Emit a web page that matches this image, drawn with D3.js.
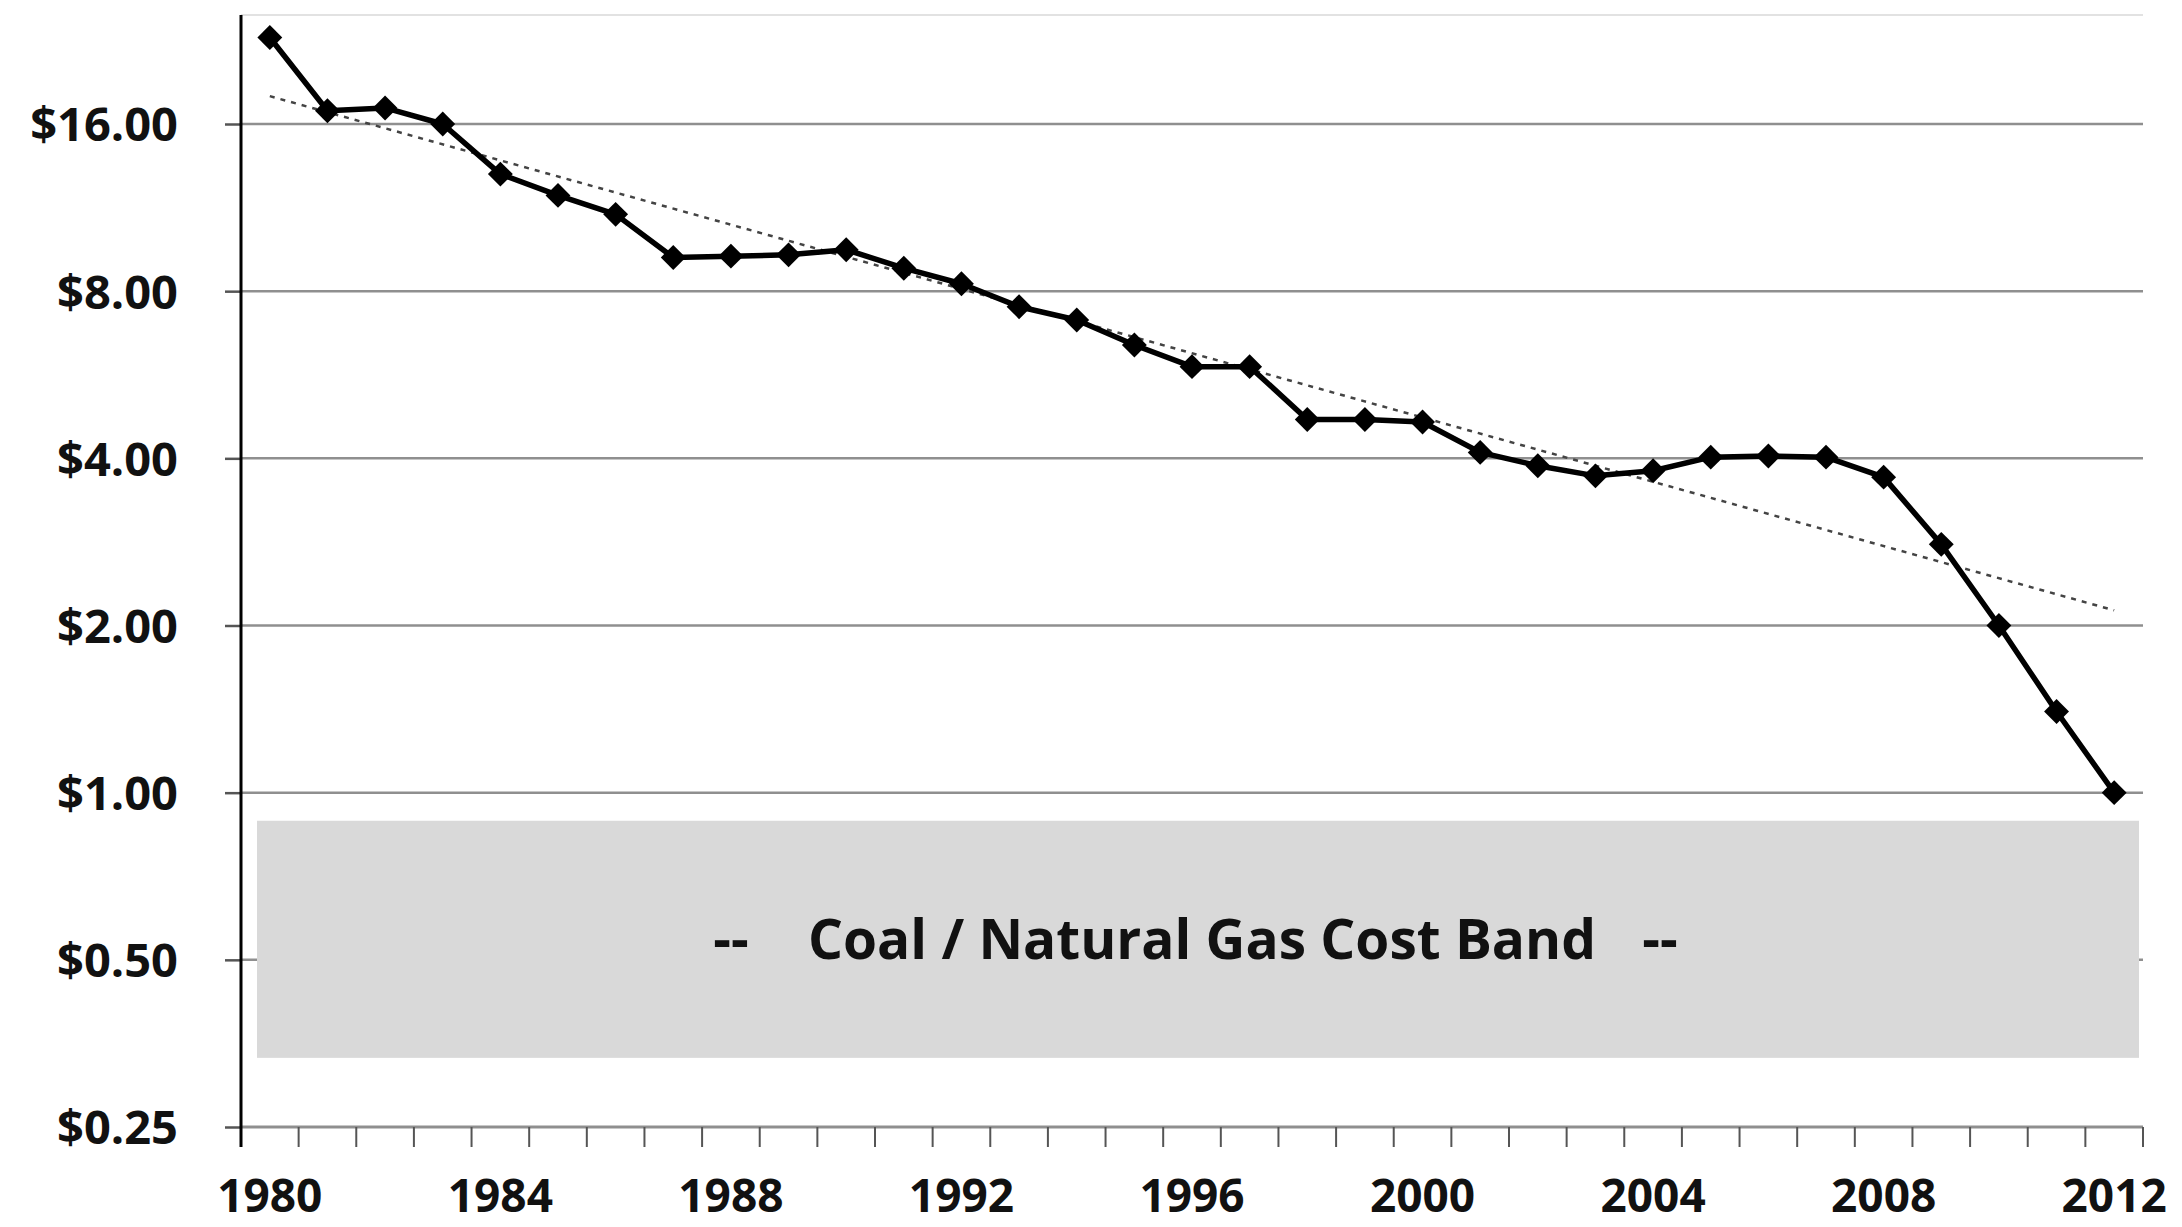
<!DOCTYPE html>
<html>
<head>
<meta charset="utf-8">
<script src="https://cdn.jsdelivr.net/npm/d3@7"></script>
<style>
  body { margin: 0; background: #fff; }
  text { font-family: "Open Sans", "Noto Sans", sans-serif; font-weight: 700; fill: #111; }
</style>
</head>
<body>
<script>
// cost per unit, log scale, 1980-2012
const years = d3.range(1980, 2013);
const cost = [22.9, 16.9, 17.1, 16.0, 13.0, 11.9, 11.0, 9.2, 9.25, 9.3,
              9.5, 8.8, 8.25, 7.5, 7.1, 6.4, 5.85, 5.85, 4.7, 4.7,
              4.65, 4.1, 3.88, 3.72, 3.8, 4.02, 4.04, 4.02, 3.7, 2.8,
              2.0, 1.4, 1.0];
// exponential trend line, read at its two ends
const trendYears = [1980, 2012];
const trendValues = [17.96, 2.13];
// coal / gas cost band
const bandValues = [0.333, 0.89];
const bandLabel = "Coal / Natural Gas Cost Band";
const yTicks = [0.25, 0.5, 1, 2, 4, 8, 16];
const xLabelYears = years.filter(d => d % 4 === 0);

const width = 2182, height = 1227;
const plotLeft = 241, plotRight = 2143, plotTop = 15, plotBottom = 1127;

const svg = d3.select("body").append("svg")
  .attr("width", width)
  .attr("height", height);

const x = d3.scaleBand().domain(years).range([plotLeft, plotRight]).padding(0);
const xc = d => x(d) + x.bandwidth() / 2;
const y = d3.scaleLog().base(2).domain([0.25, 16]).range([plotBottom, 124]);

// top border
svg.append("line")
  .attr("x1", plotLeft).attr("x2", plotRight)
  .attr("y1", plotTop).attr("y2", plotTop)
  .attr("stroke", "#e2e2e2").attr("stroke-width", 2);

// gridlines
svg.append("g").selectAll("line")
  .data(yTicks.filter(d => d > 0.25))
  .enter().append("line")
  .attr("x1", plotLeft).attr("x2", plotRight)
  .attr("y1", d => y(d)).attr("y2", d => y(d))
  .attr("stroke", "#8f8f8f").attr("stroke-width", 2.5);

// band
svg.append("rect")
  .attr("x", plotLeft + 16)
  .attr("width", plotRight - 4 - (plotLeft + 16))
  .attr("y", y(bandValues[1]))
  .attr("height", y(bandValues[0]) - y(bandValues[1]))
  .attr("fill", "#d9d9d9");

const bandMid = (y(bandValues[0]) + y(bandValues[1])) / 2;
svg.append("text")
  .attr("x", 1202).attr("y", bandMid)
  .attr("dy", "0.36em")
  .attr("text-anchor", "middle")
  .style("font-size", "55px")
  .text(bandLabel);
[731, 1660].forEach(px => {
  svg.append("text")
    .attr("x", px).attr("y", bandMid)
    .attr("dy", "0.36em")
    .attr("text-anchor", "middle")
    .style("font-size", "55px")
    .text("--");
});

// x axis
svg.append("line")
  .attr("x1", plotLeft).attr("x2", plotRight)
  .attr("y1", plotBottom).attr("y2", plotBottom)
  .attr("stroke", "#8f8f8f").attr("stroke-width", 3);

svg.append("g").selectAll("line")
  .data(years.map(d => x(d)).concat([plotRight]))
  .enter().append("line")
  .attr("x1", d => d).attr("x2", d => d)
  .attr("y1", plotBottom).attr("y2", plotBottom + 20)
  .attr("stroke", "#555").attr("stroke-width", 2);

const xAxis = svg.append("g")
  .attr("transform", `translate(0,${plotBottom})`)
  .call(d3.axisBottom(x).tickValues(xLabelYears).tickSize(0));
xAxis.select(".domain").remove();
xAxis.selectAll("text")
  .attr("y", 85).attr("dy", 0)
  .style("font-size", "46px");

// y axis
const yAxis = svg.append("g")
  .attr("transform", `translate(${plotLeft},0)`)
  .call(d3.axisLeft(y).tickValues(yTicks).tickFormat(d3.format("$.2f"))
    .tickSizeInner(16).tickSizeOuter(0).tickPadding(47));
yAxis.select(".domain").remove();
yAxis.selectAll(".tick line").attr("stroke", "#555").attr("stroke-width", 2.5);
yAxis.selectAll("text")
  .attr("dy", "0.36em")
  .style("font-size", "47px");

svg.append("line")
  .attr("x1", plotLeft).attr("x2", plotLeft)
  .attr("y1", plotTop).attr("y2", plotBottom + 20)
  .attr("stroke", "#000").attr("stroke-width", 3);

// trend
svg.append("path")
  .datum(trendYears.map((d, i) => [d, trendValues[i]]))
  .attr("fill", "none")
  .attr("stroke", "#444")
  .attr("stroke-width", 2.5)
  .attr("stroke-dasharray", "5,6")
  .attr("d", d3.line().x(d => xc(d[0])).y(d => y(d[1])));

// series
const pts = years.map((d, i) => [d, cost[i]]);
svg.append("path")
  .datum(pts)
  .attr("fill", "none")
  .attr("stroke", "#000")
  .attr("stroke-width", 5.5)
  .attr("stroke-linejoin", "round")
  .attr("d", d3.line().x(d => xc(d[0])).y(d => y(d[1])));

svg.append("g").selectAll("path")
  .data(pts)
  .enter().append("path")
  .attr("transform", d => `translate(${xc(d[0])},${y(d[1])}) rotate(45)`)
  .attr("d", d3.symbol(d3.symbolSquare, 310))
  .attr("fill", "#000");
</script>
</body>
</html>
